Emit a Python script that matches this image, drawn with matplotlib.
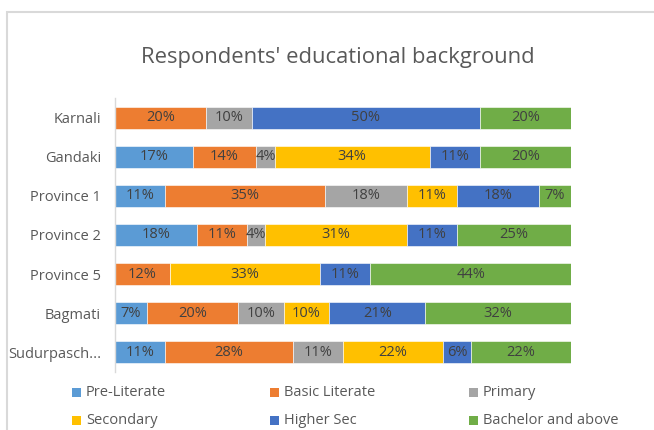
import numpy as np
import matplotlib.pyplot as plt
from matplotlib.patches import Rectangle

# Survey results by province (percent of respondents)
provinces = ["Karnali", "Gandaki", "Province 1", "Province 2",
             "Province 5", "Bagmati", "Sudurpasch..."]
levels = ["Pre-Literate", "Basic Literate", "Primary",
          "Secondary", "Higher Sec", "Bachelor and above"]

pre_literate = [0, 17, 11, 18, 0, 7, 11]
basic_literate = [20, 14, 35, 11, 12, 20, 28]
primary = [10, 4, 18, 4, 0, 10, 11]
secondary = [0, 34, 11, 31, 33, 10, 22]
higher_sec = [50, 11, 18, 11, 11, 21, 6]
bachelor = [20, 20, 7, 25, 44, 32, 22]

colors = ["#5B9BD5", "#ED7D31", "#A5A5A5", "#FFC000", "#4472C4", "#70AD47"]
text_grey = "#595959"
label_grey = "#404040"
FONT = "Open Sans"

series = np.array([pre_literate, basic_literate, primary,
                   secondary, higher_sec, bachelor], dtype=float)

fig = plt.figure(figsize=(6.54, 4.30), dpi=100)
W, H = 654, 430
ax = fig.add_axes([115 / W, 1 - 372 / H, (571 - 115) / W, (372 - 98) / H])

y = np.arange(len(provinces))
left = np.zeros(len(provinces))
for vals, color in zip(series, colors):
    ax.barh(y, vals, left=left, height=0.56, color=color,
            edgecolor="white", linewidth=0.4)
    for yi, (l, v) in enumerate(zip(left, vals)):
        if v > 0:
            ax.text(l + v / 2, yi, f"{v:.0f}%", ha="center", va="center",
                    fontsize=10.5, color=label_grey, family=FONT)
    left += vals

ax.set_xlim(0, 100)
ax.set_ylim(len(provinces) - 0.5, -0.5)
ax.set_yticks(y)
ax.set_yticklabels(provinces, fontsize=10.5, color=text_grey, family=FONT)
ax.tick_params(axis="y", length=0, pad=10)
ax.set_xticks([])
for side in ["top", "right", "bottom"]:
    ax.spines[side].set_visible(False)
ax.spines["left"].set_color("#D9D9D9")
ax.spines["left"].set_linewidth(1.0)

fig.text(338 / W, 1 - 57 / H, "Respondents' educational background",
         ha="center", va="center", fontsize=15.8, color=text_grey, family=FONT)

# Legend: two rows of three, filled row by row
col_x = [72, 270, 469]
row_y = [392, 420]
for i, (name, color) in enumerate(zip(levels, colors)):
    px, py = col_x[i % 3], row_y[i // 3]
    fig.patches.append(Rectangle((px / W, 1 - (py + 4.5) / H), 9 / W, 9 / H,
                                 transform=fig.transFigure,
                                 facecolor=color, edgecolor="none"))
    fig.text((px + 14) / W, 1 - py / H, name, ha="left", va="center",
             fontsize=10.5, color=text_grey, family=FONT)

# Chart area border
fig.patches.append(Rectangle((7 / W, -0.1), 1.2, 1 - 12 / H + 0.1,
                             transform=fig.transFigure, fill=False,
                             edgecolor="#D9D9D9", linewidth=1.5))

fig.savefig("out.png", dpi=100)
